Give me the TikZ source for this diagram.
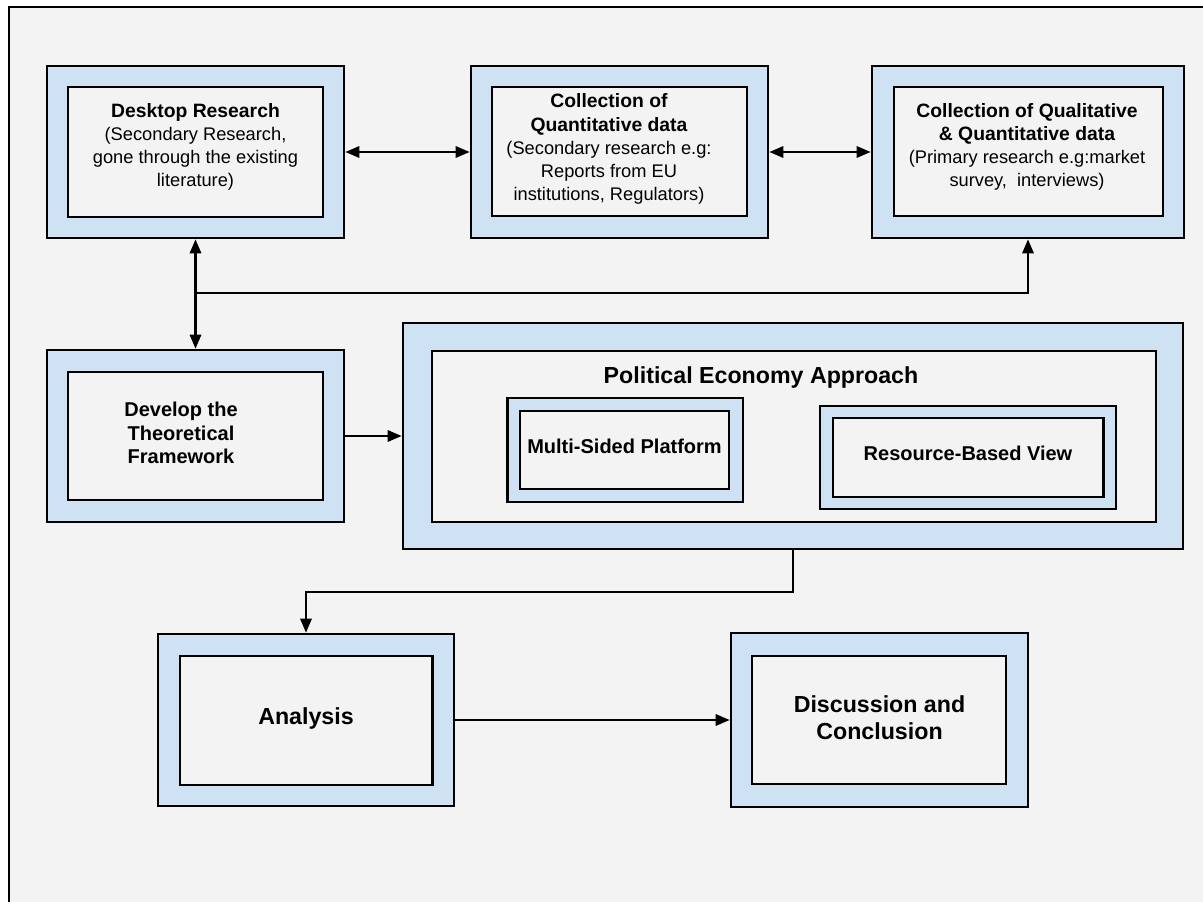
\documentclass[tikz,border=0pt]{standalone}
\usepackage{fontspec}
\setmainfont{Liberation Sans}
\usetikzlibrary{arrows.meta,fit}
\definecolor{paneblue}{HTML}{CFE2F3}
\definecolor{panegray}{HTML}{F3F3F3}
\begin{document}
\begin{tikzpicture}[x=0.75pt,y=-0.75pt,
  outerbox/.style={draw=black,line width=2pt,fill=paneblue,inner sep=0pt},
  innerbox/.style={draw=black,line width=2pt,fill=panegray,inner sep=0pt},
  label/.style={inner sep=0pt,align=center,text=black},
  hd/.style={font=\fontsize{14.5}{17.3}\selectfont\bfseries},
  sb/.style={font=\fontsize{13.7}{17.3}\selectfont},
  big/.style={font=\fontsize{17.4}{20.5}\selectfont\bfseries},
  tip/.tip={Triangle[length=10.5pt,width=8.5pt]},
  link/.style={draw=black,line width=1.6pt,-tip},
  dlink/.style={draw=black,line width=1.6pt,tip-tip}]

% page and frame
\useasboundingbox (0,0) rectangle (1203,902);
\fill[white] (0,0) rectangle (1203,902);
\fill[panegray] (8.5,7) rectangle (1210,910);
\draw[black,line width=1.5pt] (8.5,910) -- (8.5,7) -- (1210,7);

% top row
\node[outerbox,fit={(47,66) (344,238)}] (desk) {};
\node[innerbox,fit={(68,87) (323,217)}] (deskin) {};
\node[label,sb] (desktxt) at (195.5,146.5)
  {{\fontsize{14.5}{17.3}\selectfont\bfseries Desktop Research}\\(Secondary Research,\\gone through the existing\\literature)};

\node[outerbox,fit={(471,66) (768,238)}] (quant) {};
\node[innerbox,fit={(492,87) (747,216)}] (quantin) {};
\node[label,sb] (quanttxt) at (609,149)
  {{\fontsize{14.5}{17.3}\selectfont\bfseries Collection of}\\{\fontsize{14.5}{17.3}\selectfont\bfseries Quantitative data}\\(Secondary research e.g:\\Reports from EU\\institutions, Regulators)};

\node[outerbox,fit={(872,66) (1184,238)}] (qual) {};
\node[innerbox,fit={(894,87) (1163,216)}] (qualin) {};
\node[label,sb] (qualtxt) at (1027,146.5)
  {{\fontsize{14.5}{17.3}\selectfont\bfseries Collection of Qualitative}\\{\fontsize{14.5}{17.3}\selectfont\bfseries \& Quantitative data}\\(Primary research e.g:market\\survey,~ interviews)};

% middle row
\node[outerbox,fit={(47,350) (344,522)}] (dev) {};
\node[innerbox,fit={(68,372) (323,500)}] (devin) {};
\node[label,hd,font=\fontsize{15}{17.5}\selectfont\bfseries] (devtxt) at (181,433)
  {Develop the\\Theoretical\\Framework};

\node[outerbox,fit={(403,323) (1183,549)}] (pea) {};
\node[innerbox,fit={(432,351) (1156,522)}] (peain) {};
\node[label,big] (peatxt) at (761,378) {Political Economy Approach};

\node[outerbox,fit={(507.5,398) (743,502)}] (msp) {};
\node[innerbox,fit={(520,411) (729,489)}] (mspin) {};
\node[label,font=\fontsize{15}{17.5}\selectfont\bfseries] (msptxt) at (624.5,446) {Multi-Sided Platform};

\node[outerbox,fit={(820,406) (1116,509)}] (rbv) {};
\node[innerbox,fit={(833,418) (1103.5,497)}] (rbvin) {};
\node[label,font=\fontsize{15}{17.5}\selectfont\bfseries] (rbvtxt) at (968,453) {Resource-Based View};

% bottom row
\node[outerbox,fit={(158,634) (454,806)}] (ana) {};
\node[innerbox,fit={(180,656) (432.5,785)}] (anain) {};
\node[label,big] (anatxt) at (306,718) {Analysis};

\node[outerbox,fit={(731,633) (1028,807)}] (disc) {};
\node[innerbox,fit={(752,656) (1006,784)}] (discin) {};
\node[label,big] (disctxt) at (879.5,718) {Discussion and\\Conclusion};

% connectors
\draw[dlink] (desk.east) -- (quant.west);
\draw[dlink] (quant.east) -- (qual.west);
\draw[dlink] (desk.south) -- (dev.north);
\coordinate (branch) at (195.5,293);
\draw[link] (branch) -| (qual.south);
\draw[link] (dev.east) -- (pea.west);
\coordinate (elbow) at (793,592);
\draw[link] (pea.south) -- (elbow) -| (ana.north);
\draw[link] (ana.east) -- (disc.west);
\end{tikzpicture}
\end{document}
